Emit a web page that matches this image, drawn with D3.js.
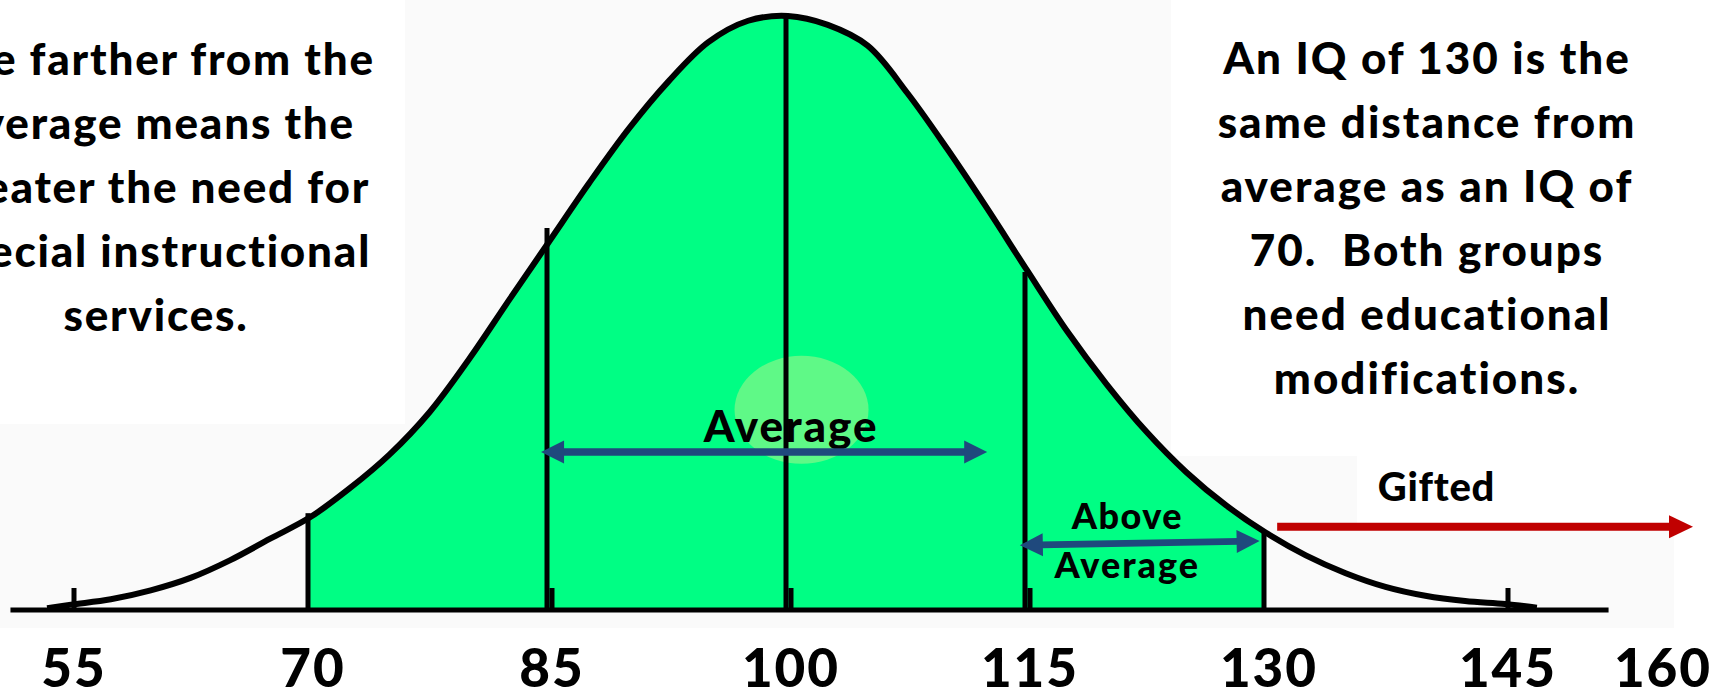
<!DOCTYPE html>
<html><head><meta charset="utf-8">
<script src="https://cdn.jsdelivr.net/npm/d3@7"></script>
<style>
html,body{margin:0;padding:0;background:#fff;overflow:hidden}
svg{display:block}
text{font-family:Lato,"Open Sans",sans-serif;font-weight:900;fill:#000}
</style>
</head><body>
<svg id="chart" width="1719" height="697"></svg>
<script>
// ---- data ----
const iqValues  = [53.5, 55, 57.5, 60, 62.5, 65, 67.5, 70, 72.5, 75, 77.5, 80, 82.5, 85, 87.5, 90, 92.5, 95, 97.5, 100,
                   102.5, 105, 107.5, 110, 112.5, 115, 117.5, 120, 122.5, 125, 127.5, 130, 132.5, 135, 137.5, 140, 142.5, 145, 147];
const frequency = [0.3, 0.9, 1.8, 3.3, 5.4, 8.4, 12.0, 15.6, 20.5, 26.2, 33.3, 42.3, 52.2, 62.0, 71.8, 81.0, 89.0, 95.6, 99.2, 100,
                   98.5, 95.0, 87.0, 77.6, 67.6, 57.2, 47.0, 38.0, 30.0, 23.2, 17.6, 13.0, 9.2, 6.2, 3.9, 2.4, 1.5, 1.0, 0.4];
const tickValues   = [55, 85, 100, 115, 145];
const labelValues  = [55, 70, 85, 100, 115, 130, 145, 160];
const labelTexts   = ["55", "70", "85", "100", "115", "130", "145", "160"];
const dividerValues = [70, 85, 100, 115, 130];
const dividerTops   = [16.3, 64.3, 100, 56.9, 13.1];
const shadedRange   = [70, 130];
const axisExtent    = [51.2, 151.5];
const leftNote  = ["The farther from the", "average means the", "greater the need for", "special instructional", "services."];
const rightNote = ["An IQ of 130 is the", "same distance from", "average as an IQ of", "70.  Both groups", "need educational", "modifications."];
const averageArrow = {from: 84.5, to: 112.5, level: 26.6};
const aboveArrow   = {from: 114.55, to: 129.6, levelFrom: 10.9, levelTo: 11.6};
const giftedArrow  = {from: 130.7, to: 156.8, level: 14.0};

// ---- layout ----
const W = 1719, H = 697;
const svg = d3.select("#chart");
const x = d3.scaleLinear().domain([55, 145]).range([71, 1505]);
const y = d3.scaleLinear().domain([0, 100]).range([610, 16]);
const pts = iqValues.map((v, i) => ({v, f: frequency[i]}));
const smooth = d3.curveCatmullRom.alpha(0.5);

// faint slide boxes
const bg = svg.append("g").attr("fill", "#fafafa");
[[405, 0, 766, 628], [0, 424, 1171, 204], [1171, 456, 186, 172], [1357, 527, 317, 101]]
  .forEach(r => bg.append("rect").attr("x", r[0]).attr("y", r[1]).attr("width", r[2]).attr("height", r[3]));

// shaded area (clipped to the 70-130 band)
svg.append("clipPath").attr("id", "band").append("rect")
  .attr("x", x(shadedRange[0]) - 2).attr("y", 0)
  .attr("width", x(shadedRange[1]) - x(shadedRange[0])).attr("height", H);
const area = d3.area().x(d => x(d.v)).y0(y(0)).y1(d => y(d.f)).curve(smooth);
svg.append("path").datum(pts).attr("d", area).attr("fill", "#00fe84").attr("clip-path", "url(#band)");

// highlight glow
svg.append("ellipse").attr("cx", x(100.85)).attr("cy", y(33.7))
  .attr("rx", 67).attr("ry", 54).attr("fill", "#5ff987");

// divider lines
svg.append("g").selectAll("line").data(dividerValues).join("line")
  .attr("x1", d => x(d) - 2).attr("x2", d => x(d) - 2)
  .attr("y1", y(0)).attr("y2", (d, i) => y(dividerTops[i]))
  .attr("stroke", "#000").attr("stroke-width", 5);

// tick stubs
svg.append("g").selectAll("line").data(tickValues).join("line")
  .attr("x1", d => x(d) + 3).attr("x2", d => x(d) + 3)
  .attr("y1", y(0)).attr("y2", y(0) - 22)
  .attr("stroke", "#000").attr("stroke-width", 5);

// baseline
svg.append("line").attr("x1", x(axisExtent[0])).attr("x2", x(axisExtent[1]))
  .attr("y1", y(0)).attr("y2", y(0)).attr("stroke", "#000").attr("stroke-width", 5);

// curve
const line = d3.line().x(d => x(d.v)).y(d => y(d.f)).curve(smooth);
svg.append("path").datum(pts).attr("d", line)
  .attr("fill", "none").attr("stroke", "#000").attr("stroke-width", 6).attr("stroke-linejoin", "round");

// tick labels
svg.append("g").selectAll("text").data(labelValues).join("text")
  .attr("x", d => Math.min(x(d) + 3, W - 56)).attr("y", 687)
  .attr("text-anchor", "middle").attr("font-size", 53).attr("letter-spacing", 2)
  .text((d, i) => labelTexts[i]);

// notes
svg.append("g").selectAll("text").data(leftNote).join("text")
  .attr("x", 156).attr("y", (d, i) => 75 + i * 64)
  .attr("text-anchor", "middle").attr("font-size", 44).attr("letter-spacing", 1.8)
  .style("white-space", "pre").text(d => d);
svg.append("g").selectAll("text").data(rightNote).join("text")
  .attr("x", 1427).attr("y", (d, i) => 74 + i * 64)
  .attr("text-anchor", "middle").attr("font-size", 44).attr("letter-spacing", 2)
  .style("white-space", "pre").text(d => d);

// annotation labels
svg.append("text").attr("x", x(100.2)).attr("y", y(28.3)).attr("text-anchor", "middle")
  .attr("font-size", 44).attr("letter-spacing", 2).text("Average");
svg.append("text").attr("x", x(121.3)).attr("y", y(13.7)).attr("text-anchor", "middle")
  .attr("font-size", 36).attr("letter-spacing", 1.5).text("Above");
svg.append("text").attr("x", x(121.3)).attr("y", y(5.4)).attr("text-anchor", "middle")
  .attr("font-size", 36).attr("letter-spacing", 2).text("Average");
svg.append("text").attr("x", x(140.7)).attr("y", y(18.35)).attr("text-anchor", "middle")
  .attr("font-size", 40).attr("letter-spacing", 0.7).text("Gifted");

// arrows
function arrow(x1, y1, x2, y2, color, sw, hl, hw, both) {
  const g = svg.append("g");
  const ang = Math.atan2(y2 - y1, x2 - x1);
  const cos = Math.cos(ang), sin = Math.sin(ang);
  const sx1 = both ? x1 + hl * cos * 0.9 : x1, sy1 = both ? y1 + hl * sin * 0.9 : y1;
  const sx2 = x2 - hl * cos * 0.9, sy2 = y2 - hl * sin * 0.9;
  g.append("line").attr("x1", sx1).attr("y1", sy1).attr("x2", sx2).attr("y2", sy2)
    .attr("stroke", color).attr("stroke-width", sw);
  const head = (tx, ty, dir) => {
    const bx = tx - dir * hl * cos, by = ty - dir * hl * sin;
    const px = -sin * hw, py = cos * hw;
    g.append("path").attr("d", `M${tx},${ty}L${bx + px},${by + py}L${bx - px},${by - py}Z`).attr("fill", color);
  };
  head(x2, y2, 1);
  if (both) head(x1, y1, -1);
}
arrow(x(averageArrow.from), y(averageArrow.level), x(averageArrow.to), y(averageArrow.level), "#1f497d", 7.5, 23, 11.5, true);
arrow(x(aboveArrow.from), y(aboveArrow.levelFrom), x(aboveArrow.to), y(aboveArrow.levelTo), "#1f497d", 6.8, 23, 11.5, true);
arrow(x(giftedArrow.from), y(giftedArrow.level), x(giftedArrow.to), y(giftedArrow.level), "#c00000", 8, 24, 11.5, false);
</script>
</body></html>
